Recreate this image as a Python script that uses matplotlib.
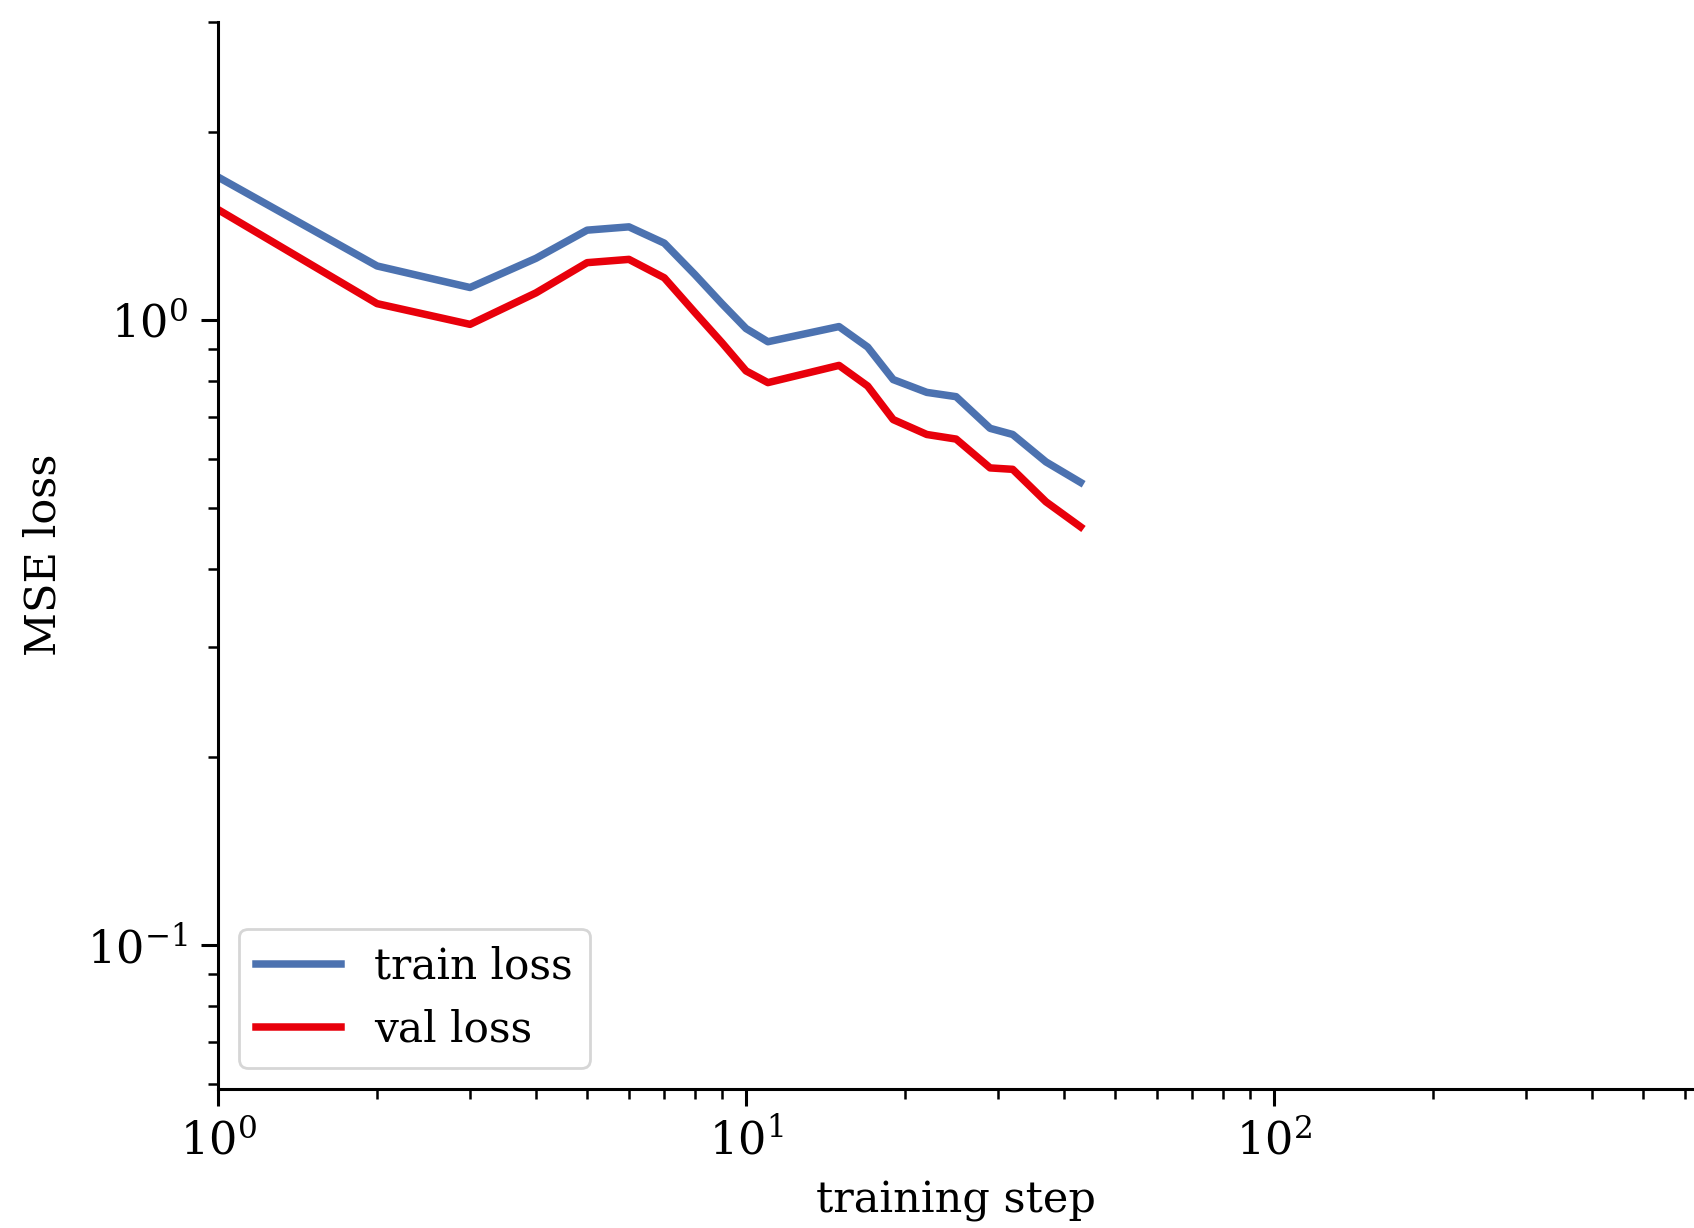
import matplotlib
matplotlib.use("Agg")
import matplotlib.pyplot as plt

# training steps at which the curves change direction
steps = [1, 2, 3, 4, 5, 6, 7, 8, 9, 10, 11, 15, 17, 19, 22, 25, 29, 32, 37, 43]
train_loss = [1.692, 1.220, 1.127, 1.255, 1.392, 1.409, 1.327, 1.182, 1.062, 0.969,
              0.923, 0.976, 0.905, 0.803, 0.766, 0.754, 0.671, 0.656, 0.593, 0.550]
val_loss = [1.501, 1.062, 0.984, 1.105, 1.235, 1.250, 1.168, 1.028, 0.920, 0.829,
            0.794, 0.846, 0.784, 0.693, 0.656, 0.645, 0.580, 0.577, 0.512, 0.467]

plt.rcParams['font.family'] = ['DejaVu Serif']
plt.rcParams['mathtext.fontset'] = 'dejavuserif'

fig = plt.figure(figsize=(8.47, 6.14), dpi=200)
ax = fig.add_axes([0.1288, 0.1135, 0.8712, 0.8689])

ax.plot(steps, train_loss, color='#4C72B0', linewidth=2.7, label='train loss')
ax.plot(steps, val_loss, color='#E8000B', linewidth=2.7, label='val loss')

ax.set_xscale('log')
ax.set_yscale('log')
ax.set_xlim(1, 625)
ax.set_ylim(0.059, 3.0)

ax.spines['top'].set_visible(False)
ax.spines['right'].set_visible(False)
ax.spines['left'].set_linewidth(1.1)
ax.spines['bottom'].set_linewidth(1.1)
ax.tick_params(axis='both', which='major', labelsize=16, length=6, width=1.1, pad=5)
ax.tick_params(axis='both', which='minor', length=3.5, width=0.9)

ax.set_xlabel('training step', fontsize=15.5, labelpad=6)
ax.set_ylabel('MSE loss', fontsize=15.5, labelpad=8)

ax.legend(loc='lower left', fontsize=15.2, handlelength=2.0)

fig.savefig('out.png', dpi=200)
